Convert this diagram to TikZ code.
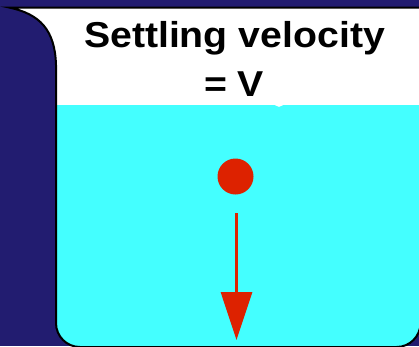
\documentclass[tikz,border=0pt]{standalone}
\usepackage{fontspec}
\setmainfont{Liberation Sans}
\usetikzlibrary{arrows.meta}
\definecolor{navy}{RGB}{34,28,112}
\definecolor{water}{RGB}{68,255,255}
\definecolor{dotred}{RGB}{221,34,0}
\newcommand\beakerpath{(9,7.5) -- (420.5,7.5) -- (420.5,323) .. controls (420.5,336.3) and (409.8,347) .. (396.5,347) -- (80,347) .. controls (66.7,347) and (56,336.3) .. (56,323) -- (56,65) .. controls (55,30) and (40,14) .. (9,7.5) -- cycle}
\tikzset{
  label text/.style={font=\bfseries\fontsize{36}{42}\selectfont, anchor=base, inner sep=0},
  outline/.style={draw=black, line width=2pt},
}
\begin{document}
\begin{tikzpicture}[x=1pt,y=-1pt]
\useasboundingbox (0,0) rectangle (419,346);
\fill[navy] (0,0) rectangle (419,346);
\fill[white] \beakerpath;
\begin{scope}
  \clip \beakerpath;
  \fill[water] (0,104.5) rectangle (430,350);
\end{scope}
\draw[outline] \beakerpath;
\node[circle, draw=white, line width=1.5pt, minimum size=10pt, inner sep=0] (bubble) at (279,101) {};
\node[label text] (t1) at (234.5,47) {\scalebox{1.09}[1]{Settling velocity}};
\node[label text] (t2) at (234,96) {\scalebox{1.09}[1]{= V}};
\node[circle, fill=dotred, minimum size=36pt, inner sep=0] (ball) at (235.5,176.5) {};
\coordinate (astart) at (236.5,213);
\coordinate (aend) at (236.5,340);
\draw[dotred, line width=3pt, -{Triangle[width=31pt,length=48pt]}] (astart) -- (aend);
\end{tikzpicture}
\end{document}
